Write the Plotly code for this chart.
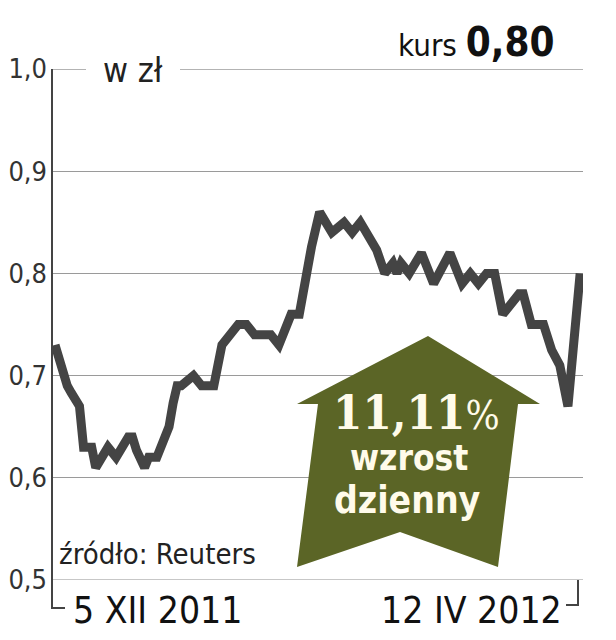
import plotly.graph_objects as go

# dni od 5 XII 2011 i kurs w zł
days = [0, 1, 3, 4, 6, 7, 9, 10, 13, 15, 18, 19, 20, 22, 23, 25, 26, 28, 29, 30,
        31, 34, 36, 39, 41, 45, 47, 49, 53, 55, 57, 58, 60, 61, 63, 65, 68, 71, 73, 75,
        78, 79, 81, 83, 84, 85, 87, 90, 93, 97, 100, 102, 104, 106, 108, 110, 114, 115,
        117, 120, 122, 124, 126, 129]
price = [0.73, 0.715, 0.69, 0.683, 0.67, 0.63, 0.63, 0.61, 0.63, 0.62, 0.64, 0.64, 0.627,
         0.61, 0.62, 0.62, 0.63, 0.65, 0.673, 0.69, 0.69, 0.70, 0.69, 0.69, 0.73, 0.75,
         0.75, 0.74, 0.74, 0.73, 0.75, 0.76, 0.76, 0.784, 0.826, 0.86, 0.84, 0.85, 0.84,
         0.85, 0.83, 0.823, 0.80, 0.81, 0.80, 0.81, 0.80, 0.82, 0.79, 0.82, 0.79, 0.80,
         0.79, 0.80, 0.80, 0.76, 0.78, 0.78, 0.75, 0.75, 0.725, 0.71, 0.67, 0.80]

y_ticks = [0.5, 0.6, 0.7, 0.8, 0.9, 1.0]
y_labels = ["0,5", "0,6", "0,7", "0,8", "0,9", "1,0"]
x_labels = ["5 XII 2011", "12 IV 2012"]

NARROW = "Liberation Sans Narrow, DejaVu Sans Condensed, sans-serif"
COND = "DejaVu Sans Condensed, sans-serif"

# plot area in pixels: x 52..583, y 69..580
def px(x):
    return (x - 52) / 531

def py(y):
    return (580 - y) / 511

fig = go.Figure()
fig.add_trace(go.Scatter(x=days, y=price, mode="lines",
                         line=dict(color="#444444", width=9), hoverinfo="skip"))

# linia 1,0 (przerwana napisem) i 0,5
fig.add_shape(type="line", xref="paper", yref="y", x0=0, x1=px(86), y0=1.0, y1=1.0,
              line=dict(color="#9a9a9a", width=1.3), layer="below")
fig.add_shape(type="line", xref="paper", yref="y", x0=px(180), x1=1, y0=1.0, y1=1.0,
              line=dict(color="#9a9a9a", width=1.3), layer="below")
fig.add_shape(type="line", xref="paper", yref="y", x0=0, x1=1, y0=0.5, y1=0.5,
              line=dict(color="#b5b5b5", width=1.3), layer="below")

# strzałka
arrow = [(428, 336), (540, 404), (518, 404), (498, 567), (400, 532),
         (297, 567), (318, 404), (297, 404)]
path = "M " + " L ".join(f"{px(a):.4f},{py(b):.4f}" for a, b in arrow) + " Z"
fig.add_shape(type="path", path=path, xref="paper", yref="paper",
              fillcolor="#5b6526", line=dict(width=0), layer="above")

# oś lewa i nawiasy dat
fig.add_shape(type="path", xref="paper", yref="paper",
              path=f"M {px(65)},{py(608)} L 0,{py(608)} L 0,1",
              line=dict(color="#444444", width=2))
fig.add_shape(type="path", xref="paper", yref="paper",
              path=f"M {px(566)},{py(605)} L {px(578)},{py(605)} L {px(578)},0",
              line=dict(color="#444444", width=2))

fig.add_annotation(x=px(71), y=py(610), xref="paper", yref="paper", text=x_labels[0],
                   showarrow=False, xanchor="left", yanchor="middle",
                   font=dict(family=NARROW, size=37, color="#111111"))
fig.add_annotation(x=px(564), y=py(610), xref="paper", yref="paper", text=x_labels[1],
                   showarrow=False, xanchor="right", yanchor="middle",
                   font=dict(family=NARROW, size=37, color="#111111"))

fig.add_annotation(x=px(557), y=py(42), xref="paper", yref="paper",
                   text="kurs <b><span style='font-size:40px'>0,80</span></b>",
                   showarrow=False, xanchor="right", yanchor="middle",
                   font=dict(family=COND, size=31, color="#111111"))

fig.add_annotation(x=px(133), y=py(70), xref="paper", yref="paper", text="w zł",
                   showarrow=False, xanchor="center", yanchor="middle", bgcolor="white",
                   borderpad=2, font=dict(family=NARROW, size=34, color="#222222"))

fig.add_annotation(x=px(57), y=py(554), xref="paper", yref="paper", text="źródło: Reuters",
                   showarrow=False, xanchor="left", yanchor="middle",
                   font=dict(family=NARROW, size=29, color="#222222"))

fig.add_annotation(x=px(416), y=py(412), xref="paper", yref="paper",
                   text="<b>11,11</b><span style='font-size:40px'>%</span>",
                   showarrow=False, xanchor="center", yanchor="middle",
                   font=dict(family="DejaVu Serif Condensed, serif", size=47, color="#fffbea"))
fig.add_annotation(x=px(409), y=py(458), xref="paper", yref="paper", text="<b>wzrost</b>",
                   showarrow=False, xanchor="center", yanchor="middle",
                   font=dict(family=COND, size=35, color="#fffbea"))
fig.add_annotation(x=px(407), y=py(500), xref="paper", yref="paper", text="<b>dzienny</b>",
                   showarrow=False, xanchor="center", yanchor="middle",
                   font=dict(family=COND, size=37, color="#fffbea"))

fig.update_layout(
    width=616, height=640,
    margin=dict(l=52, r=33, t=69, b=60),
    plot_bgcolor="white", paper_bgcolor="white",
    showlegend=False,
    xaxis=dict(range=[-0.75, 129.7], showgrid=False, zeroline=False, automargin=False,
               showticklabels=False, showline=False),
    yaxis=dict(range=[0.5, 1.0], tickvals=y_ticks, ticktext=y_labels, automargin=False,
               showgrid=True, gridcolor="#9a9a9a", gridwidth=1.3, zeroline=False,
               showline=False, ticks="", ticklabelstandoff=4,
               tickfont=dict(family=NARROW, size=27, color="#333333")),
)

fig.write_html("out.html", config={"displayModeBar": False},
               post_script="document.body.style.margin='0';")
